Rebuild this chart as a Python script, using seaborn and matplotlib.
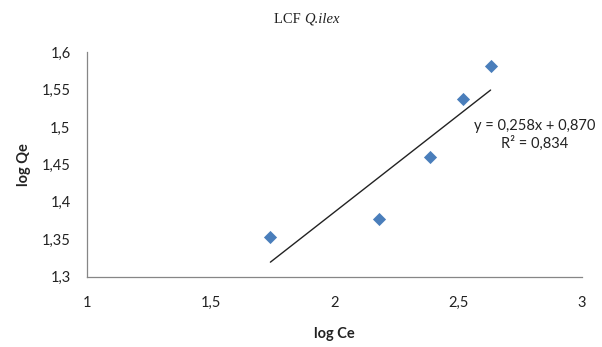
import matplotlib
matplotlib.use("Agg")
import matplotlib.pyplot as plt
import seaborn as sns
import pandas as pd
import numpy as np

log_ce = [1.74, 2.18, 2.385, 2.52, 2.63]
log_qe = [1.353, 1.377, 1.46, 1.537, 1.582]
x_ticks = [1, 1.5, 2, 2.5, 3]
x_tick_labels = ["1", "1,5", "2", "2,5", "3"]
y_ticks = [1.3, 1.35, 1.4, 1.45, 1.5, 1.55, 1.6]
y_tick_labels = ["1,3", "1,35", "1,4", "1,45", "1,5", "1,55", "1,6"]
equation = "y = 0,258x + 0,870"
r2_text = "R² = 0,834"

df = pd.DataFrame({"log Ce": log_ce, "log Qe": log_qe})

sns.set_style("white")
plt.rcParams["font.family"] = ["Lato", "DejaVu Sans"]

fig = plt.figure(figsize=(6.02, 3.47), dpi=100)
ax = fig.add_axes([0.145, 0.2026, 0.822, 0.647])

sns.regplot(data=df, x="log Ce", y="log Qe", ci=None, scatter=False, ax=ax,
            line_kws={"color": "#222222", "linewidth": 1.0})
sns.scatterplot(data=df, x="log Ce", y="log Qe", marker="D", s=45,
                color="#4A7EBB", edgecolor="#4A7EBB", linewidth=0, ax=ax, zorder=3)

ax.set_xlim(1, 3)
ax.set_ylim(1.3, 1.6)
ax.set_xticks(x_ticks)
ax.set_xticklabels(x_tick_labels)
ax.set_yticks(y_ticks)
ax.set_yticklabels(y_tick_labels)
ax.tick_params(axis="both", direction="out", length=4, width=0.8, color="#868686",
               labelsize=10.5, labelcolor="#222222", pad=8)
ax.tick_params(axis="x", pad=10)

for s in ["top", "right"]:
    ax.spines[s].set_visible(False)
for s in ["left", "bottom"]:
    ax.spines[s].set_color("#868686")
    ax.spines[s].set_linewidth(0.9)

ax.set_xlabel("log Ce", fontsize=10.5, fontweight="bold", labelpad=12, color="#222222")
ax.set_ylabel("log Qe", fontsize=10.5, fontweight="bold", labelpad=8, color="#222222")

fig.text(0.505, 0.945, "LCF ", ha="right", va="center", fontsize=10.5,
         family="Liberation Serif", color="#222222")
fig.text(0.505, 0.945, "Q.ilex", ha="left", va="center", fontsize=10.5,
         family="Liberation Serif", style="italic", color="#222222")

ax.text(2.81, 1.501, equation, ha="center", va="center", fontsize=10.5, color="#222222")
ax.text(2.81, 1.478, r2_text, ha="center", va="center", fontsize=10.5, color="#222222")

fig.savefig("out.png", dpi=100)
